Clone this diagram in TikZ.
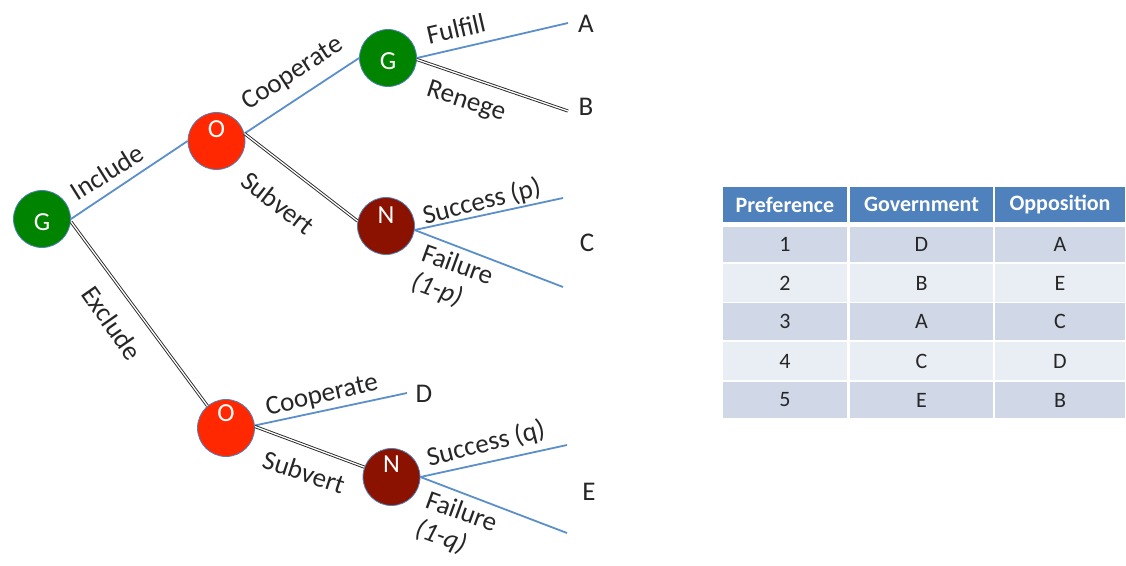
\documentclass[tikz,border=0pt]{standalone}
\usepackage{fontspec}
\setmainfont{Carlito}
\definecolor{moveblue}{RGB}{91,143,201}
\definecolor{ringblue}{RGB}{79,129,189}
\definecolor{govgreen}{RGB}{0,132,0}
\definecolor{oppred}{RGB}{255,40,0}
\definecolor{natred}{RGB}{140,18,0}
\definecolor{hdrblue}{RGB}{79,129,189}
\definecolor{bandA}{RGB}{208,216,232}
\definecolor{bandB}{RGB}{233,237,244}
\begin{document}
\begin{tikzpicture}[x=1pt,y=-1pt,
  player/.style={circle, minimum size=57pt, inner sep=0pt, draw=ringblue, line width=0.8pt},
  letter/.style={text=white, font=\fontsize{26}{29}\selectfont},
  move/.style={draw=moveblue, line width=1.8pt},
  dbl/.style={draw=black!85, line width=0.9pt, double=white, double distance=1.3pt},
  lab/.style={font=\fontsize{27}{30}\selectfont, text=black!85, inner sep=0pt},
  outcome/.style={font=\fontsize{27}{30}\selectfont, text=black!85, inner sep=0pt},
  cell/.style={inner sep=0pt, font=\fontsize{22}{25}\selectfont, text=black!85},
  hdr/.style={cell, fill=hdrblue, text=white, font=\bfseries\fontsize{22}{25}\selectfont}
]
\useasboundingbox (0,0) rectangle (1126,565);

% decision and chance nodes
\node[player, fill=govgreen, label={[letter, yshift=-3pt]center:G}] (G1) at (42,219) {};
\node[player, fill=oppred,   label={[letter, yshift=12pt]center:O}] (O1) at (216.5,141) {};
\node[player, fill=govgreen, label={[letter, yshift=-3pt]center:G}] (G2) at (388,58) {};
\node[player, fill=natred,   label={[letter, yshift=11pt]center:N}] (N1) at (386,226) {};
\node[player, fill=oppred,   label={[letter, yshift=15pt]center:O}] (O2) at (226,428) {};
\node[player, fill=natred,   label={[letter, yshift=13pt]center:N}] (N2) at (391.5,477) {};

% free ends of the terminal branches
\coordinate (a1) at (568,23);
\coordinate (b1) at (568,111);
\coordinate (c1) at (563,198);
\coordinate (c2) at (563,287);
\coordinate (d1) at (407,393);
\coordinate (e1) at (567,445);
\coordinate (e2) at (567,533);

% branches
\draw[move] (G1.east) -- (O1.west);
\draw[dbl]  (G1.-5) -- (O2.130);
\draw[move] (O1.15) -- (G2.west);
\draw[dbl]  (O1.15) -- (N1.170);
\draw[move] (G2.east) -- (a1);
\draw[dbl]  (G2.-3) -- (b1);
\draw[move] (N1.-8) -- (c1);
\draw[move] (N1.-8) -- (c2);
\draw[move] (O2.5) -- (d1);
\draw[dbl]  (O2.3) -- (N2.160);
\draw[move] (N2.east) -- (e1);
\draw[move] (N2.east) -- (e2);

% branch labels
\node[lab, rotate=32]  (lInc)  at (107,172) {Include};
\node[lab, rotate=-55] (lExc)  at (112,323) {Exclude};
\node[lab, rotate=33]  (lCo1)  at (293,74)  {Cooperate};
\node[lab, rotate=-38] (lSub1) at (278,203) {Subvert};
\node[lab, rotate=13]  (lFul)  at (456,29)  {Fulfill};
\node[lab, rotate=-18] (lRen)  at (466,102) {Renege};
\node[lab, rotate=14]  (lSp)   at (482,202) {Success (p)};
\node[lab, rotate=-20, align=left] (lFp) at (452,280) {Failure\\\itshape(1-p)};
\node[lab, rotate=13]  (lCo2)  at (322,396) {Cooperate};
\node[lab, rotate=-18] (lSub2) at (304,472) {Subvert};
\node[lab, rotate=14]  (lSq)   at (486,444) {Success (q)};
\node[lab, rotate=-20, align=left] (lFq) at (456,527) {Failure\\\itshape(1-q)};

% outcomes
\node[outcome] (A) at (586,24)  {A};
\node[outcome] (B) at (586,107) {B};
\node[outcome] (C) at (587,243) {C};
\node[outcome] (D) at (424,394) {D};
\node[outcome] (E) at (589,492) {E};

% preference table
\node[hdr, minimum width=124pt, minimum height=35pt] (h1) at (785,204.5) {Preference};
\node[hdr, minimum width=143pt, minimum height=35pt] (h2) at (921.5,204.5) {Government};
\node[hdr, minimum width=130pt, minimum height=35pt] (h3) at (1060,204.5) {Opposition};
\foreach \i/\g/\o/\yc/\h/\band in {1/D/A/244.5/35/bandA, 2/B/E/283/38/bandB, 3/A/C/321.5/37/bandA, 4/C/D/361/38/bandB, 5/E/B/400/36/bandA} {
  \node[cell, fill=\band, minimum width=124pt, minimum height=\h pt] (p\i) at (785,\yc) {\i};
  \node[cell, fill=\band, minimum width=143pt, minimum height=\h pt] (g\i) at (921.5,\yc) {\g};
  \node[cell, fill=\band, minimum width=130pt, minimum height=\h pt] (o\i) at (1060,\yc) {\o};
}
\end{tikzpicture}
\end{document}
